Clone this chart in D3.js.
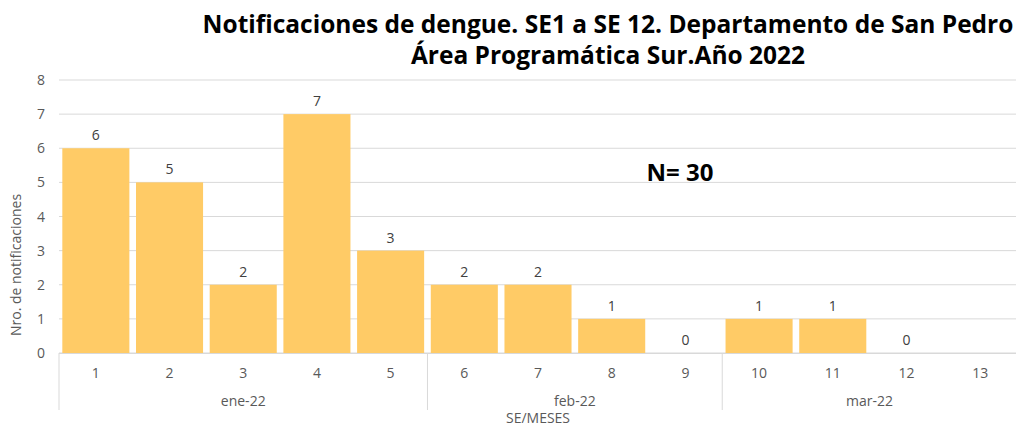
<!DOCTYPE html>
<html><head><meta charset="utf-8">
<script src="https://cdn.jsdelivr.net/npm/d3@7"></script>
<style>body{margin:0;background:#fff;} text{font-family:"Open Sans","Noto Sans",sans-serif;}</style>
</head><body><svg id="c" width="1016" height="427"></svg>
<script>
const weeks = ["1","2","3","4","5","6","7","8","9","10","11","12","13"];
const counts = [6,5,2,7,3,2,2,1,0,1,1,0,null];
const months = ["ene-22","feb-22","mar-22"];
const monthSpans = [[0,4],[5,8],[9,12]];
const yTicks = [0,1,2,3,4,5,6,7,8];
const titleLines = ["Notificaciones de dengue. SE1 a SE 12. Departamento de San Pedro","Área Programática Sur.Año 2022"];

const svg = d3.select("#c");
const L=59, R=1017, T=80, B=353;
const x = d3.scaleBand().domain(weeks).range([L,R]).paddingInner(0.09).paddingOuter(0.045);
const y = d3.scaleLinear().domain([0,8]).range([B,T]);
const grey="#595959";
const fs=14;

// gridlines
svg.append("g").selectAll("line").data(yTicks).join("line")
  .attr("x1",L).attr("x2",R).attr("y1",d=>y(d)).attr("y2",d=>y(d))
  .attr("stroke","#d9d9d9").attr("stroke-width",1);
svg.append("g").selectAll("text").data(yTicks).join("text")
  .attr("x",45).attr("y",d=>y(d)+5).attr("text-anchor","end")
  .attr("font-size",fs).attr("fill",grey).text(d=>d);

// bars
const pts = counts.map((v,i)=>({w:weeks[i],v}));
svg.append("g").selectAll("rect").data(pts.filter(d=>d.v!=null&&d.v>0)).join("rect")
  .attr("x",d=>x(d.w)).attr("width",x.bandwidth()).attr("y",d=>y(d.v)).attr("height",d=>y(0)-y(d.v))
  .attr("fill","#FFCB66");
svg.append("g").selectAll("text").data(pts.filter(d=>d.v!=null)).join("text")
  .attr("x",d=>x(d.w)+x.bandwidth()/2).attr("y",d=>y(d.v)-8).attr("text-anchor","middle")
  .attr("font-size",fs).attr("fill","#404040").text(d=>d.v);

// x axis
const step = x.step();
svg.append("line").attr("x1",L).attr("x2",R).attr("y1",B+0.5).attr("y2",B+0.5).attr("stroke","#d9d9d9");
svg.append("g").selectAll("text").data(weeks).join("text")
  .attr("x",d=>x(d)+x.bandwidth()/2).attr("y",378).attr("text-anchor","middle")
  .attr("font-size",fs).attr("fill",grey).text(d=>d);
const bounds = [L, ...monthSpans.map(s=>L+(s[1]+1)*step)];
svg.append("g").selectAll("line").data(bounds.slice(0,3)).join("line")
  .attr("x1",d=>d).attr("x2",d=>d).attr("y1",B).attr("y2",410).attr("stroke","#d9d9d9");
svg.append("g").selectAll("text").data(months).join("text")
  .attr("x",(d,i)=>L+(monthSpans[i][0]+monthSpans[i][1]+1)/2*step).attr("y",406).attr("text-anchor","middle")
  .attr("font-size",fs).attr("fill",grey).text(d=>d);
svg.append("text").attr("x",538).attr("y",423).attr("text-anchor","middle")
  .attr("font-size",fs).attr("fill",grey).text("SE/MESES");
svg.append("text").attr("transform","translate(21,265) rotate(-90)").attr("text-anchor","middle")
  .attr("font-size",fs).attr("fill",grey).text("Nro. de notificaciones");

// title
svg.append("g").selectAll("text").data(titleLines).join("text")
  .attr("x",608).attr("y",(d,i)=>33+i*31).attr("text-anchor","middle")
  .attr("font-size",24.5).attr("font-weight","bold").attr("fill","#000").text(d=>d);
svg.append("text").attr("x",680).attr("y",181).attr("text-anchor","middle")
  .attr("font-size",24).attr("font-weight","bold").attr("fill","#000").text("N= 30");
</script></body></html>
